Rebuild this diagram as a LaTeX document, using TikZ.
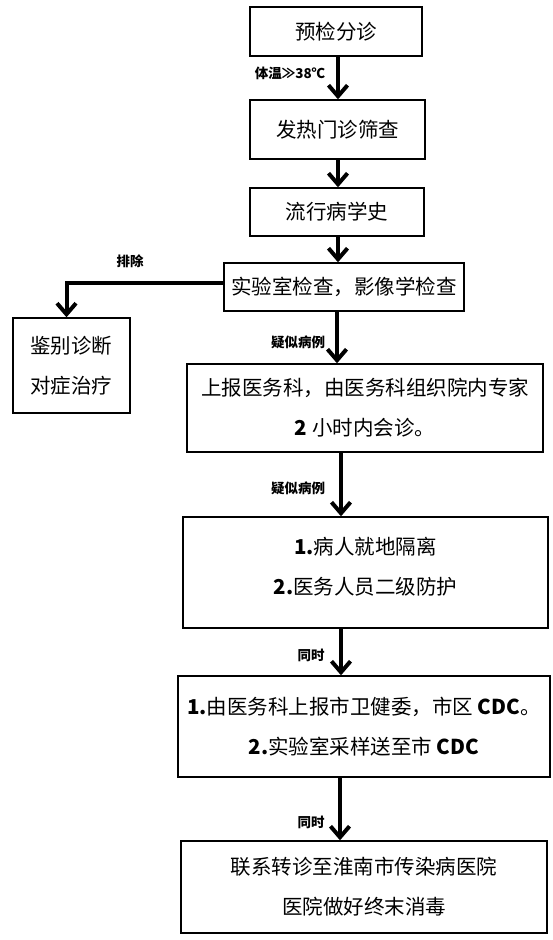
\documentclass[tikz,border=0pt]{standalone}
\usepackage{fontspec}
\setmainfont{Noto Sans CJK SC}
\usetikzlibrary{arrows.meta,calc}
\tikzset{
  box/.style={draw, line width=1.4pt, inner sep=0pt, align=center, font=\fontsize{20.5}{40}\selectfont},
  arr/.style={line width=4pt, -{Straight Barb[length=11pt,width=19pt,line width=4pt]}},
  lbl/.style={font=\fontsize{13.5}{14}\selectfont\bfseries, inner sep=0pt}
}
\begin{document}
\begin{tikzpicture}[x=1pt,y=-1pt]
\useasboundingbox (0,0) rectangle (553,940);
\node[box, minimum width=172, minimum height=49] (b1) at (336,31.5) {预检分诊};
\node[box, minimum width=175, minimum height=59] (b2) at (337.5,129.5) {发热门诊筛查};
\node[box, minimum width=174, minimum height=48] (b3) at (337,212) {流行病学史};
\node[box, minimum width=240, minimum height=48] (b4) at (344,287) {实验室检查，影像学检查};
\node[box, minimum width=117, minimum height=95, align=left] (b5) at (71.5,365.5) {鉴别诊断\\对症治疗};
\node[box, minimum width=356, minimum height=88] (b6) at (365,408) {上报医务科，由医务科组织院内专家\\\textbf{2} 小时内会诊。};
\node[box, minimum width=365, minimum height=111, text depth=14pt] (b7) at (365.5,572.5) {\textbf{1.}病人就地隔离\\\textbf{2.}医务人员二级防护};
\node[box, minimum width=372, minimum height=101] (b8) at (364,726.5) {\textbf{1.}由医务科上报市卫健委，市区 \textbf{CDC}。\\\textbf{2.}实验室采样送至市 \textbf{CDC}};
\node[box, minimum width=366, minimum height=92] (b9) at (364,887) {联系转诊至淮南市传染病医院\\医院做好终末消毒};
\coordinate (ax) at (341,0);
\draw[arr] (b1.south -| ax) ++(-3,0) coordinate (t1) -- (t1 |- b2.north);
\draw[arr] (b2.south -| ax) ++(-3,0) coordinate (t2) -- (t2 |- b3.north);
\draw[arr] (b3.south -| ax) ++(-3,0) coordinate (t3) -- (t3 |- b4.north);
\draw[arr] (b4.south -| ax) ++(-4,0) coordinate (t4) -- (t4 |- b6.north);
\draw[arr] (b6.south -| ax) -- (b7.north -| ax);
\draw[arr] (b7.south -| ax) -- (b8.north -| ax);
\draw[arr] (b8.south -| ax) ++(-1,0) coordinate (t8) -- (t8 |- b9.north);
\draw[arr] ($(b4.west)+(0,-4)$) -| ($(b5.north)+(-5,0)$);
\node[lbl] (l1) at (290,73) {体温≫38℃};
\node[lbl] (l2) at (130,261) {排除};
\node[lbl] (l3) at (298,342) {疑似病例};
\node[lbl] (l4) at (298,488) {疑似病例};
\node[lbl] (l5) at (311,655) {同时};
\node[lbl] (l6) at (311,822) {同时};
\end{tikzpicture}
\end{document}
